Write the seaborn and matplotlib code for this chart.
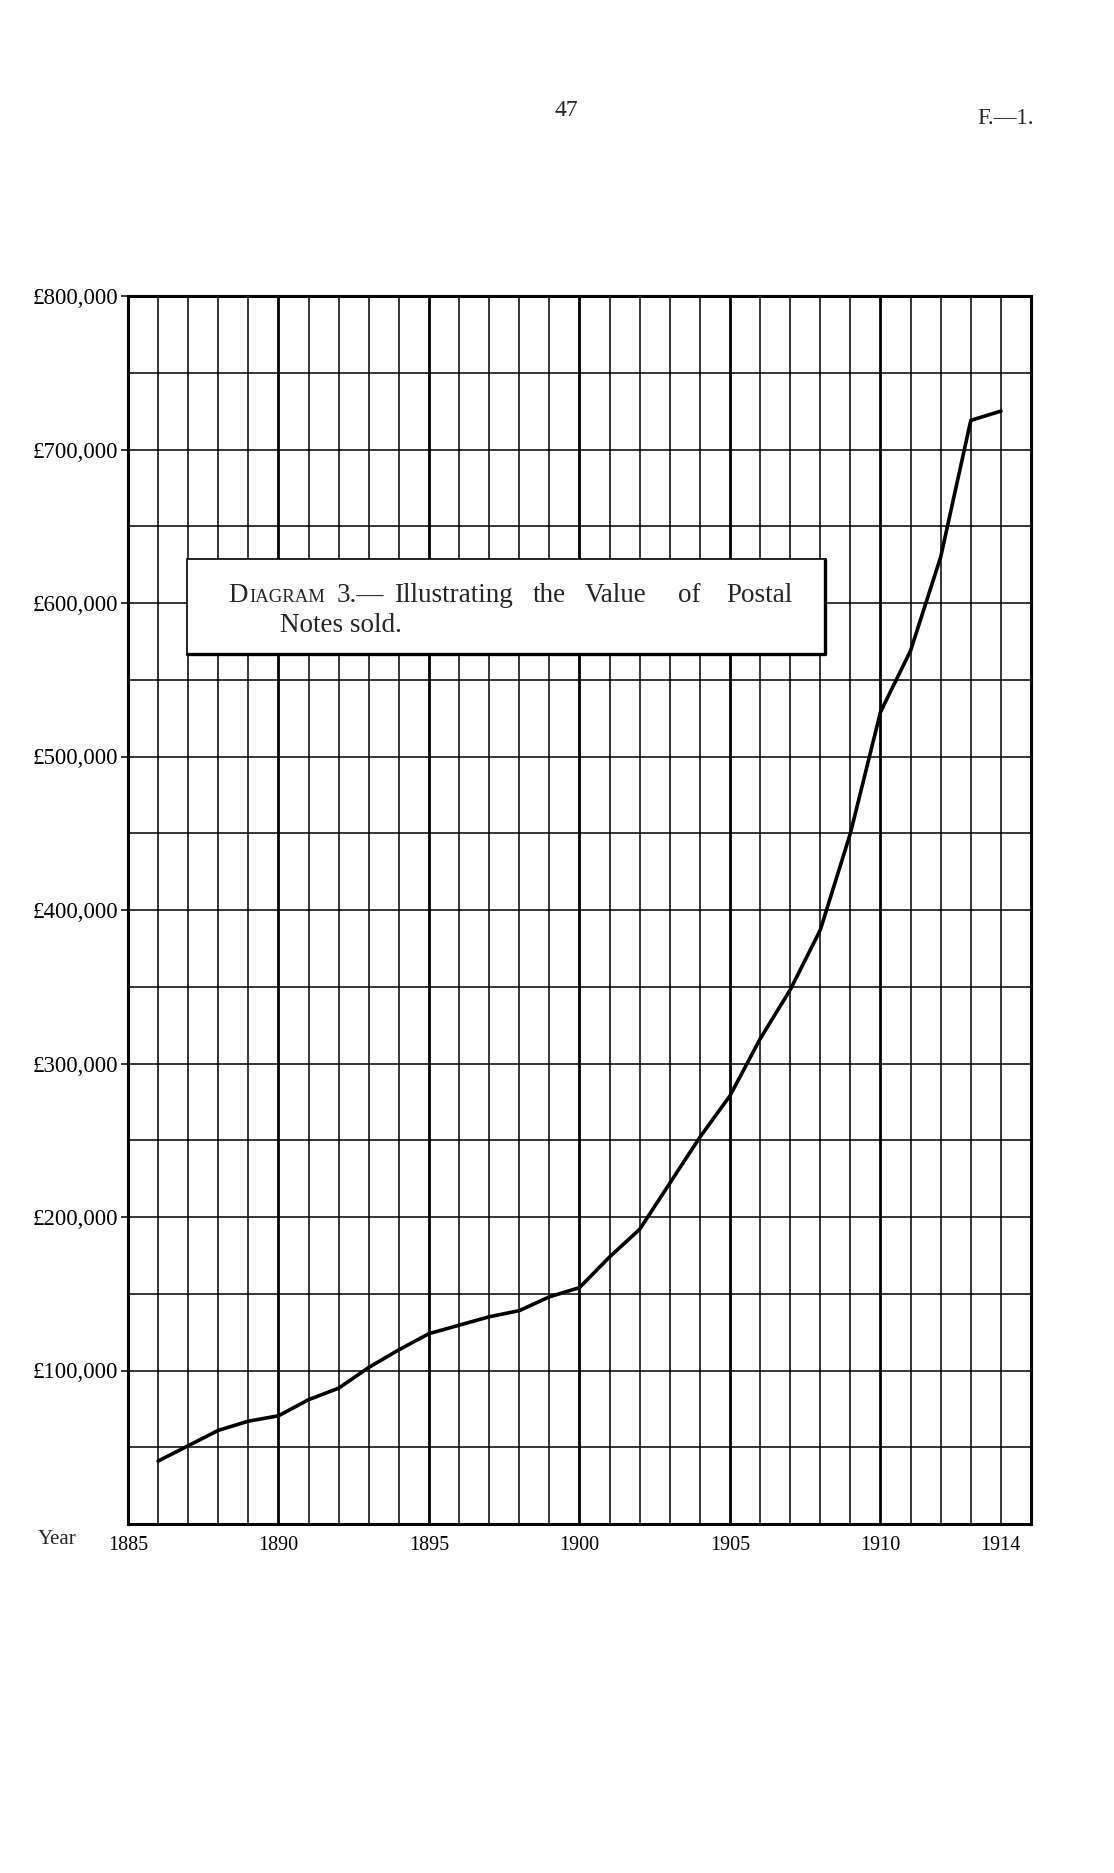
import numpy as np
import pandas as pd
import seaborn as sns
import matplotlib.pyplot as plt
from matplotlib.patches import Rectangle
from matplotlib.ticker import FuncFormatter

# values (pounds)
years = list(range(1886, 1915))
values = [41000, 51000, 61000, 67000, 70500, 81000, 88500, 102000, 113500, 124000,
          129500, 135000, 139000, 148000, 154000, 174000, 192000, 222000, 252000, 279000,
          316000, 348000, 387000, 450000, 529000, 569000, 630000, 719000, 725000]
ytick_values = [100000, 200000, 300000, 400000, 500000, 600000, 700000, 800000]
xlabel_years = [1885, 1890, 1895, 1900, 1905, 1910, 1914]
grid_years = list(range(1885, 1916))
grid_values = list(range(50000, 800000, 50000))

df = pd.DataFrame({'year': years, 'value': values})

sns.set_theme(style="white")
plt.rcParams['font.family'] = ['Liberation Serif', 'DejaVu Serif']

W, H = 1114, 1873
fig = plt.figure(figsize=(W / 100, H / 100), dpi=100)


def fx(x):
    return x / W


def fy(y):
    return 1 - y / H


left, right, top, bottom = 128, 1031, 296, 1524
ax = fig.add_axes([fx(left), fy(bottom), (right - left) / W, (bottom - top) / H])

# ruled paper
ax.vlines(grid_years, 0, 800000, colors='black',
          linewidths=[2.0 if y % 5 == 0 else 1.1 for y in grid_years], zorder=1)
ax.hlines(grid_values, 1885, 1915, colors='black', linewidths=1.1, zorder=1)

sns.lineplot(data=df, x='year', y='value', color='black', linewidth=2.6, ax=ax, zorder=5)

ax.set_xlim(1885, 1915)
ax.set_ylim(0, 800000)
for s in ax.spines.values():
    s.set_visible(True)
    s.set_color('black')
    s.set_linewidth(2.2)

ax.set_yticks(ytick_values)
ax.yaxis.set_major_formatter(FuncFormatter(lambda v, p: f"£{int(v):,}"))
ax.tick_params(axis='y', left=True, length=5, width=1.1, pad=2, labelsize=16.5, colors='black')
ax.set_xticks(xlabel_years)
ax.set_xticklabels([str(y) for y in xlabel_years])
ax.tick_params(axis='x', bottom=False, length=0, pad=9, labelsize=14.5, colors='black')
ax.set_xlabel('')
ax.set_ylabel('')

fig.text(fx(38), fy(1540), "Year", ha='left', va='center', fontsize=15)

# page header
fig.text(fx(566), fy(111), "47", ha='center', va='center', fontsize=17)
fig.text(fx(1006), fy(119), "F.—1.", ha='center', va='center', fontsize=16.5)

# caption box
bx0, bx1, by0, by1 = 187, 825, 559, 654
box = Rectangle((fx(bx0), fy(by1)), (bx1 - bx0) / W, (by1 - by0) / H,
                transform=fig.transFigure, facecolor='white', edgecolor='black',
                linewidth=1.2, zorder=3, clip_on=False)
ax.add_patch(box)
ax.plot([fx(bx0), fx(bx1), fx(bx1)], [fy(by1), fy(by1), fy(by0)],
        transform=fig.transFigure, color='black', linewidth=2.4, zorder=4, clip_on=False)

base1, base2 = fy(602), fy(632)
fs = 19.5
fig.text(fx(228), base1, "D", fontsize=fs, va='baseline', zorder=6)
fig.text(fx(325), base1, "IAGRAM", fontsize=13.5, va='baseline', ha='right', zorder=6)
fig.text(fx(337), base1, "3.—", fontsize=fs, va='baseline', zorder=6)
fig.text(fx(513), base1, "Illustrating", fontsize=fs, va='baseline', ha='right', zorder=6)
fig.text(fx(533), base1, "the", fontsize=fs, va='baseline', zorder=6)
fig.text(fx(585), base1, "Value", fontsize=fs, va='baseline', zorder=6)
fig.text(fx(678), base1, "of", fontsize=fs, va='baseline', zorder=6)
fig.text(fx(793), base1, "Postal", fontsize=fs, va='baseline', ha='right', zorder=6)
fig.text(fx(280), base2, "Notes sold.", fontsize=fs, va='baseline', zorder=6)

fig.savefig("out.png", dpi=100, facecolor='white')
